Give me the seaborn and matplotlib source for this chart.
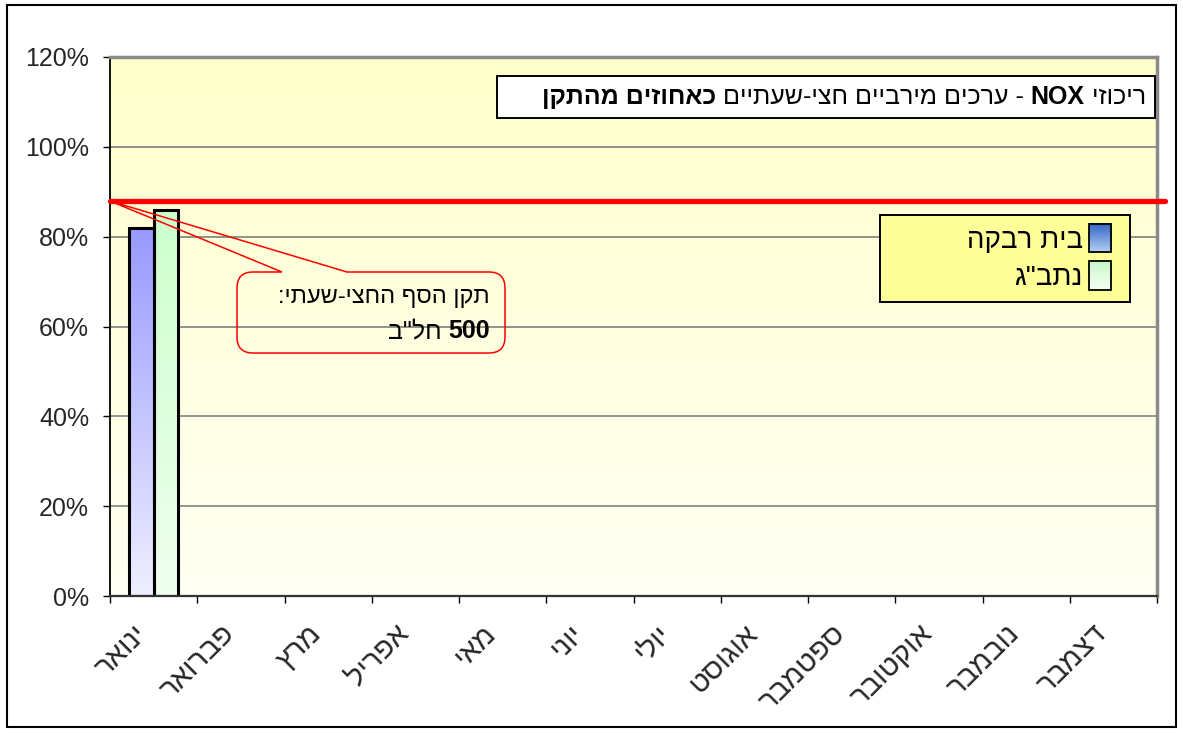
import re
import numpy as np
import pandas as pd
import seaborn as sns
import matplotlib.pyplot as plt
from matplotlib.colors import LinearSegmentedColormap
from matplotlib.patches import Rectangle, PathPatch, Patch
from matplotlib.path import Path
from matplotlib.transforms import Affine2D, Bbox, TransformedBbox, ScaledTranslation
from matplotlib.image import BboxImage
from matplotlib.legend_handler import HandlerBase
from matplotlib.ticker import PercentFormatter

nan = np.nan

#%% data
months = ['ינואר', 'פברואר', 'מרץ', 'אפריל', 'מאי', 'יוני',
          'יולי', 'אוגוסט', 'ספטמבר', 'אוקטובר', 'נובמבר', 'דצמבר']
stations = ['בית רבקה', 'נתב"ג']
beit_rivka = [0.82, nan, nan, nan, nan, nan, nan, nan, nan, nan, nan, nan]
natbag = [0.86, nan, nan, nan, nan, nan, nan, nan, nan, nan, nan, nan]
threshold = 0.88
yticks = [0, 0.2, 0.4, 0.6, 0.8, 1.0, 1.2]

title_parts = [('ריכוזי ', 'normal'), ('NOX', 'bold'),
               (' - ערכים מירביים חצי-שעתיים ', 'normal'), ('כאחוזים מהתקן', 'bold')]
note_line1 = 'תקן הסף החצי-שעתי:'
note_line2 = [('500', 'bold'), (' חל"ב', 'normal')]

df = pd.DataFrame({'month': months * 2,
                   'station': [stations[0]] * 12 + [stations[1]] * 12,
                   'value': beit_rivka + natbag}).dropna()


def rtl(s):
    # matplotlib has no bidi: flip hebrew runs, keep latin/digit runs as they are
    parts = re.findall(r'[A-Za-z0-9]+|[^A-Za-z0-9]+', s)
    return ''.join(p if re.match(r'[A-Za-z0-9]', p) else p[::-1] for p in reversed(parts))


#%% style
sns.set_style('white')
plt.rcParams['font.family'] = ['Liberation Sans', 'DejaVu Sans']
plt.rcParams['text.color'] = 'black'

W, H = 1183, 733
fig = plt.figure(figsize=(W / 100, H / 100), dpi=100)
px = Affine2D().scale(1 / W, -1 / H).translate(0, 1) + fig.transFigure  # pixel coords, y down
ax = fig.add_axes([110 / W, 1 - 596 / H, 1047 / W, 539 / H])

grad = np.linspace(0, 1, 256).reshape(-1, 1)
bg_cmap = LinearSegmentedColormap.from_list('bg', ['#FFFFF4', '#FFFFCC'])
bar_cmaps = [LinearSegmentedColormap.from_list('b0', ['#EFEFFF', '#9999FF']),
             LinearSegmentedColormap.from_list('b1', ['#F0FFF0', '#CCFFCC'])]
leg_cmaps = [LinearSegmentedColormap.from_list('l0', ['#B4D0F6', '#3262C4']),
             LinearSegmentedColormap.from_list('l1', ['#F6FFF6', '#C8F8C8'])]

sns.barplot(data=df, x='month', y='value', hue='station', order=months, hue_order=stations,
            palette=['#9999FF', '#CCFFCC'], width=0.57, edgecolor='black', linewidth=2.2,
            errorbar=None, legend=False, ax=ax)

# gradient fill inside the bars
for cont, cmap in zip(ax.containers, bar_cmaps):
    for bar in cont:
        x0, y0 = bar.get_xy()
        im = ax.imshow(grad, extent=[x0, x0 + bar.get_width(), y0, y0 + bar.get_height()],
                       origin='lower', cmap=cmap, aspect='auto', interpolation='bilinear',
                       zorder=bar.get_zorder() - 0.01)
        im.set_clip_path(bar)
        bar.set_facecolor('none')

ax.imshow(grad, extent=[0, 1, 0, 1], transform=ax.transAxes, origin='lower', cmap=bg_cmap,
          aspect='auto', interpolation='bilinear', zorder=0)

ax.set_xlim(-0.5, 11.5)
ax.set_ylim(0, 1.2)
ax.set_xlabel('')
ax.set_ylabel('')
ax.set_axisbelow(True)
ax.yaxis.grid(True, color='#7f7f7f', lw=1.2)

ax.set_yticks(yticks)
ax.yaxis.set_major_formatter(PercentFormatter(1.0, decimals=0))
ax.tick_params(axis='y', length=5, width=1, color='black', pad=10, labelsize=18, left=True)

ax.set_xticks(range(12))
ax.set_xticklabels([rtl(m) for m in months], rotation=45, ha='right', va='center',
                   rotation_mode='anchor', fontsize=21)
ax.set_xticks(np.arange(-0.5, 12, 1), minor=True)
ax.tick_params(axis='x', which='major', length=0, pad=24)
ax.tick_params(axis='x', which='minor', length=5, width=1, color='black', bottom=True)
for lab in ax.get_xticklabels():
    lab.set_transform(lab.get_transform() + ScaledTranslation(-0.11, 0, fig.dpi_scale_trans))

for side in ['top', 'right']:
    ax.spines[side].set_color('#8a8a8a')
    ax.spines[side].set_linewidth(2.5)
ax.spines['left'].set_color('black')
ax.spines['left'].set_linewidth(1.3)
ax.spines['bottom'].set_color('#333333')
ax.spines['bottom'].set_linewidth(1.6)

# threshold line (runs a little past the plot area like in excel)
ax.axhline(threshold, xmin=0, xmax=1.0077, color='red', lw=3.8, clip_on=False, zorder=3)

#%% callout
L, R, T, B, r = 237, 505, 272, 353, 16
tip = (110, 201)
verts = [tip, (347, T), (R - r, T), (R, T), (R, T + r), (R, B - r), (R, B), (R - r, B),
         (L + r, B), (L, B), (L, B - r), (L, T + r), (L, T), (L + r, T), (282, T), tip]
codes = [Path.MOVETO, Path.LINETO, Path.LINETO, Path.CURVE3, Path.CURVE3, Path.LINETO,
         Path.CURVE3, Path.CURVE3, Path.LINETO, Path.CURVE3, Path.CURVE3, Path.LINETO,
         Path.CURVE3, Path.CURVE3, Path.LINETO, Path.LINETO]
ax.add_patch(PathPatch(Path(verts, codes), transform=px, fc='none', ec='red', lw=1.1,
                       clip_on=False, zorder=4))


def rtl_line(parts, x, y, size):
    # draw text pieces from the right edge leftwards (reading order)
    prev = None
    for s, w in parts:
        if prev is None:
            prev = ax.annotate(rtl(s), xy=(x, y), xycoords=px, ha='right', va='center',
                               fontsize=size, fontweight=w, annotation_clip=False, zorder=6)
        else:
            prev = ax.annotate(rtl(s), xy=(0, 0), xycoords=prev, ha='right', va='bottom',
                               fontsize=size, fontweight=w, annotation_clip=False, zorder=6)


rtl_line([(note_line1, 'normal')], 490, 297, 17)
rtl_line(note_line2, 490, 331, 18)

#%% title box
ax.add_patch(Rectangle((497, 76), 658, 42, transform=px, fc='white', ec='black', lw=1.4,
                       clip_on=False, zorder=5))
rtl_line(title_parts, 1146, 97, 18)


#%% legend
class HandlerGradient(HandlerBase):
    def __init__(self, cmap):
        super().__init__()
        self.cmap = cmap

    def create_artists(self, legend, orig_handle, xdescent, ydescent, width, height, fontsize, trans):
        bb = TransformedBbox(Bbox.from_bounds(-xdescent, -ydescent, width, height), trans)
        img = BboxImage(bb, cmap=self.cmap, origin='lower', interpolation='bilinear')
        img.set_data(grad)
        edge = Rectangle((-xdescent, -ydescent), width, height, fc='none', ec='black', lw=1.3,
                         transform=trans)
        return [img, edge]


ax.add_patch(Rectangle((880, 215), 250, 87, transform=px, fc='#FFFF99', ec='black', lw=1.4,
                       clip_on=False, zorder=5))
handles = [Patch(label=rtl(s)) for s in stations]
leg = ax.legend(handles=handles, handler_map={h: HandlerGradient(c) for h, c in zip(handles, leg_cmaps)},
                loc='upper right', bbox_to_anchor=(1111 / W, 1 - 224 / H), bbox_transform=fig.transFigure,
                frameon=False, markerfirst=False, fontsize=20, handlelength=0.8, handleheight=1.2,
                handletextpad=0.22, labelspacing=0.28, borderpad=0, borderaxespad=0)
leg.set_zorder(6)

# outer chart border
fig.add_artist(Rectangle((7, 5), 1169, 722, transform=px, fill=False, ec='black', lw=1.5))

fig.savefig('out.png', dpi=100)
